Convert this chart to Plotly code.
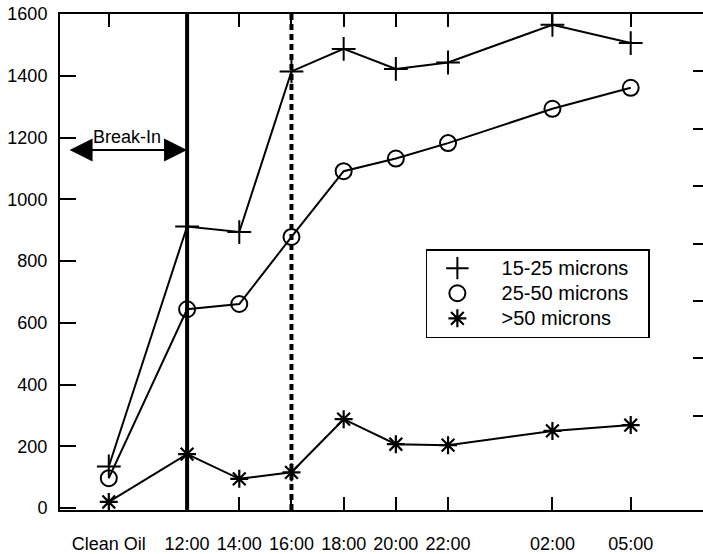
import plotly.graph_objects as go

# ---- data ----
categories = ["Clean Oil", "12:00", "14:00", "16:00", "18:00", "20:00", "22:00", "02:00", "05:00"]
hours = [9, 12, 14, 16, 18, 20, 22, 26, 29]          # elapsed clock hours (02:00 = 26, 05:00 = 29)
s15_25 = [135, 912, 894, 1414, 1487, 1422, 1443, 1565, 1506]
s25_50 = [97, 644, 661, 878, 1091, 1132, 1182, 1293, 1361]
s_gt50 = [20, 175, 95, 116, 288, 207, 204, 250, 269]
series_names = ["15-25 microns", "25-50 microns", ">50 microns"]
y_tick_vals = [0, 200, 400, 600, 800, 1000, 1200, 1400, 1600]
break_in_end = 12        # solid vertical line
marker_line_at = 16      # dashed vertical line
break_in_label = "Break-In"

FONT = "Liberation Sans, Arial, Helvetica, sans-serif"
BLACK = "#000000"

fig = go.Figure()

series = [
    (s15_25, dict(symbol="cross-thin", size=17, line=dict(width=2, color=BLACK), color=BLACK)),
    (s25_50, dict(symbol="circle-open", size=16, line=dict(width=2, color=BLACK), color=BLACK)),
    (s_gt50, dict(symbol="asterisk-open", size=15, line=dict(width=2.2, color=BLACK), color=BLACK)),
]

for (vals, mk), name in zip(series, series_names):
    fig.add_trace(go.Scatter(x=hours, y=vals, mode="lines", line=dict(color=BLACK, width=2),
                             showlegend=False, hoverinfo="skip"))
for (vals, mk), name in zip(series, series_names):
    label = "\u00a0\u00a0\u00a0<span style='font-size:20px'>" + name + "</span>\u00a0\u00a0\u00a0"
    fig.add_trace(go.Scatter(x=hours, y=vals, mode="markers", marker=mk, name=label,
                             showlegend=True))

# invisible trace to activate right-hand tick axis
fig.add_trace(go.Scatter(x=[hours[0]], y=[0], yaxis="y2", mode="markers",
                         marker=dict(opacity=0), showlegend=False, hoverinfo="skip"))

# vertical lines
fig.add_shape(type="line", x0=break_in_end, x1=break_in_end, y0=0, y1=1, xref="x", yref="paper",
              line=dict(color=BLACK, width=4))
fig.add_shape(type="line", x0=marker_line_at, x1=marker_line_at, y0=0, y1=1, xref="x", yref="paper",
              line=dict(color=BLACK, width=4, dash="6px,4px"))

# Break-In double arrow
fig.add_annotation(x=break_in_end, y=1160, ax=7.44, ay=1160, xref="x", yref="y", axref="x", ayref="y",
                   text="", showarrow=True, arrowside="end+start", arrowhead=2, startarrowhead=2,
                   arrowsize=2.3, startarrowsize=2.3, arrowwidth=2, arrowcolor=BLACK,
                   standoff=0, startstandoff=0)
fig.add_annotation(x=9.7, y=1160, xref="x", yref="y", text=break_in_label, showarrow=False,
                   yanchor="bottom", yshift=1, font=dict(family=FONT, size=18, color=BLACK))

fig.update_layout(
    width=703, height=554,
    margin=dict(l=60, r=0, t=14, b=41),
    paper_bgcolor="white", plot_bgcolor="white",
    font=dict(family=FONT, size=18, color=BLACK),
    xaxis=dict(range=[7.13, 31.77], tickvals=hours, ticktext=categories,
               showline=True, linecolor=BLACK, linewidth=2, mirror="ticks",
               ticks="inside", ticklen=13, tickwidth=2, tickcolor=BLACK,
               showgrid=False, zeroline=False, ticklabelstandoff=16,
               tickfont=dict(family=FONT, size=18, color=BLACK)),
    yaxis=dict(range=[-6, 1600], tickvals=y_tick_vals,
               showline=True, linecolor=BLACK, linewidth=2, mirror=False,
               ticks="inside", ticklen=16, tickwidth=2, tickcolor=BLACK,
               showgrid=False, zeroline=False, ticklabelstandoff=7,
               tickfont=dict(family=FONT, size=18, color=BLACK)),
    yaxis2=dict(overlaying="y", side="right", range=[-0.64, 8], tickvals=[1, 2, 3, 4, 5, 6, 7],
                showticklabels=False, showline=False, showgrid=False, zeroline=False,
                ticks="inside", ticklen=10, tickwidth=2, tickcolor=BLACK),
    legend=dict(x=0.569, y=0.526, xanchor="left", yanchor="top",
                bordercolor=BLACK, borderwidth=1.5, bgcolor="white",
                font=dict(family=FONT, size=17, color=BLACK),
                itemwidth=50, tracegroupgap=0),
    showlegend=True,
)

fig.write_html("out.html")
